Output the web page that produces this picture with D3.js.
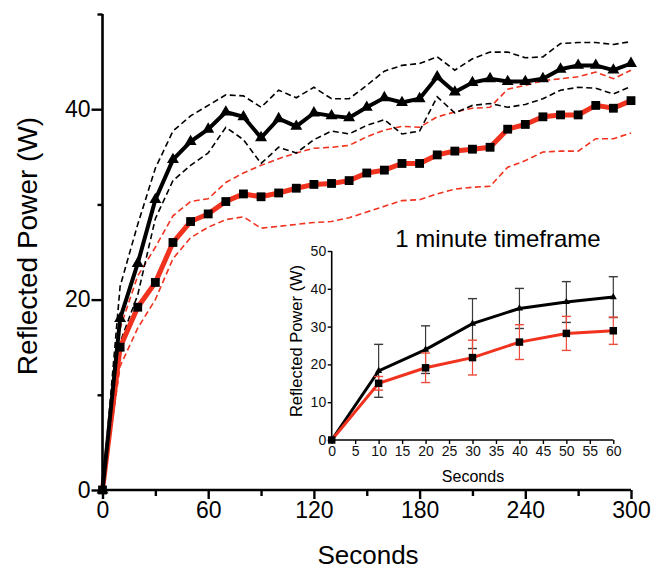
<!DOCTYPE html>
<html>
<head>
<meta charset="utf-8">
<script src="https://cdn.jsdelivr.net/npm/d3@7"></script>
<style>
  body { margin: 0; background: #fff; }
  svg { display: block; font-family: "Liberation Sans", Arial, Helvetica, sans-serif; }
</style>
</head>
<body>
<div id="chart"></div>
<script>
// main panel: 0-300 s, every 10 s
var seconds = [0,10,20,30,40,50,60,70,80,90,100,110,120,130,140,150,160,170,180,190,200,210,220,230,240,250,260,270,280,290,300];
var blackMean  = [0,18.0,23.8,30.5,34.7,36.6,37.9,39.7,39.2,37.0,39.0,38.2,39.6,39.3,39.1,40.2,41.2,40.7,41.1,43.4,41.8,42.8,43.2,42.9,42.9,43.2,44.2,44.6,44.6,44.1,44.8];
var blackUpper = [0,21.4,27.9,33.8,37.7,39.3,40.4,41.5,41.4,40.2,42.0,41.2,42.3,41.1,41.1,42.5,44.0,44.6,44.8,45.5,44.1,45.3,46.0,46.0,45.4,45.5,46.9,47.0,47.0,46.8,47.1];
var blackLower = [0,15.5,20.5,28.5,32.5,34.1,35.4,38.1,36.8,34.3,36.0,35.4,36.8,37.7,37.4,38.3,38.9,37.4,37.7,41.3,39.6,40.4,40.6,40.2,40.5,41.1,42.0,42.3,42.2,41.6,42.4];
var redMean  = [0,15.0,19.2,21.8,26.0,28.2,29.0,30.3,31.1,30.8,31.2,31.7,32.1,32.2,32.5,33.3,33.6,34.3,34.3,35.2,35.6,35.8,36.0,37.9,38.4,39.2,39.4,39.4,40.4,40.1,40.9];
var redUpper = [0,17.0,22.5,25.5,28.8,30.3,30.6,32.3,33.3,34.1,34.8,35.4,35.9,36.0,36.2,37.1,37.8,38.2,38.1,39.2,39.7,40.1,40.2,42.1,42.5,43.0,43.2,43.4,43.9,43.2,44.1];
var redLower = [0,13.0,17.0,20.0,24.3,26.5,27.6,28.4,28.7,27.5,27.7,27.9,28.1,28.2,28.6,29.2,29.8,30.4,30.5,31.1,31.6,31.8,31.9,33.9,34.6,35.5,35.6,35.6,36.9,36.9,37.5];

var mainXTicks = [0,30,60,90,120,150,180,210,240,270,300];
var mainXLabels = [0,60,120,180,240,300];
var mainYTicks = [0,10,20,30,40,50];
var mainYLabels = [0,20,40];

// inset: first minute, mean +/- error
var insetSeconds = [0,10,20,30,40,50,60];
var insetBlackMean = [0,18.3,23.9,30.8,34.8,36.5,37.8];
var insetBlackErr  = [0,7.0,6.3,6.6,5.3,5.4,5.4];
var insetRedMean   = [0,15.0,19.1,21.8,25.9,28.2,28.9];
var insetRedErr    = [0,1.8,3.9,4.6,4.6,4.5,3.6];
var insetXTicks = [0,5,10,15,20,25,30,35,40,45,50,55,60];
var insetYTicks = [0,10,20,30,40,50];

var width = 657, height = 569;
var RED = "#f0321e";

var svg = d3.select("#chart").append("svg")
  .attr("width", width)
  .attr("height", height);

function zipped(xs, ys) {
  return xs.map(function(d, i) { return {t: d, v: ys[i]}; });
}

// ---------- main chart ----------
var x = d3.scaleLinear().domain([0, 300]).range([102.5, 631]);
var y = d3.scaleLinear().domain([0, 50]).range([490, 14]);

var line = d3.line()
  .x(function(d) { return x(d.t); })
  .y(function(d) { return y(d.v); });

var main = svg.append("g");

// dashed bounds
[[redUpper, RED], [redLower, RED], [blackUpper, "#000"], [blackLower, "#000"]].forEach(function(s) {
  main.append("path")
    .datum(zipped(seconds, s[0]))
    .attr("d", line)
    .attr("fill", "none")
    .attr("stroke", s[1])
    .attr("stroke-width", 1.6)
    .attr("stroke-dasharray", "6,3.5");
});

main.append("path")
  .datum(zipped(seconds, redMean))
  .attr("d", line)
  .attr("fill", "none")
  .attr("stroke", RED)
  .attr("stroke-width", 5);

main.append("path")
  .datum(zipped(seconds, blackMean))
  .attr("d", line)
  .attr("fill", "none")
  .attr("stroke", "#000")
  .attr("stroke-width", 4);

main.selectAll(".sq")
  .data(zipped(seconds, redMean))
  .enter().append("path")
  .attr("d", d3.symbol().type(d3.symbolSquare).size(78))
  .attr("transform", function(d) { return "translate(" + x(d.t) + "," + y(d.v) + ")"; })
  .attr("fill", "#000");

main.selectAll(".tri")
  .data(zipped(seconds, blackMean))
  .enter().append("path")
  .attr("d", d3.symbol().type(d3.symbolTriangle).size(62))
  .attr("transform", function(d) { return "translate(" + x(d.t) + "," + y(d.v) + ")"; })
  .attr("fill", "#000");

// axes
var xAxis = main.append("g")
  .attr("transform", "translate(0," + y(0) + ")")
  .call(d3.axisBottom(x).tickValues(mainXTicks).tickSize(9).tickPadding(3)
    .tickFormat(function(d) { return mainXLabels.indexOf(d) >= 0 ? d : ""; }));
xAxis.selectAll(".tick line").attr("y2", function(d) { return mainXLabels.indexOf(d) >= 0 ? 9 : 6; });

var yAxis = main.append("g")
  .attr("transform", "translate(" + x(0) + ",0)")
  .call(d3.axisLeft(y).tickValues(mainYTicks).tickSize(11).tickPadding(1)
    .tickFormat(function(d) { return mainYLabels.indexOf(d) >= 0 ? d : ""; }));
yAxis.selectAll(".tick line").attr("x2", function(d) { return mainYLabels.indexOf(d) >= 0 ? -11 : -5; });

[xAxis, yAxis].forEach(function(a) {
  a.select(".domain").attr("stroke-width", 2.6).attr("d", null);
  a.selectAll(".tick line").attr("stroke-width", 2.4);
  a.selectAll("text").attr("font-size", 23).attr("fill", "#000").attr("font-family", null);
});
xAxis.select(".domain").attr("d", "M" + x(0) + ",0H" + x(300));
yAxis.select(".domain").attr("d", "M0," + y(0) + "V" + y(50));

main.append("text")
  .attr("x", 368).attr("y", 564)
  .attr("text-anchor", "middle")
  .attr("font-size", 26)
  .text("Seconds");

main.append("text")
  .attr("transform", "translate(37,246) rotate(-90)")
  .attr("text-anchor", "middle")
  .attr("font-size", 28)
  .text("Reflected Power (W)");

// ---------- inset ----------
var ix = d3.scaleLinear().domain([0, 60]).range([331.7, 613.3]);
var iy = d3.scaleLinear().domain([0, 50]).range([440, 251]);

var iline = d3.line()
  .x(function(d) { return ix(d.t); })
  .y(function(d) { return iy(d.v); });

var inset = svg.append("g");

function errorBars(means, errs, colour) {
  var g = inset.append("g");
  insetSeconds.forEach(function(t, i) {
    if (errs[i] === 0) return;
    var top = iy(means[i] + errs[i]), bot = iy(means[i] - errs[i]), cx = ix(t);
    g.append("line").attr("x1", cx).attr("x2", cx).attr("y1", top).attr("y2", bot)
      .attr("stroke", colour).attr("stroke-width", 1.2);
    [top, bot].forEach(function(yy) {
      g.append("line").attr("x1", cx - 4.5).attr("x2", cx + 4.5).attr("y1", yy).attr("y2", yy)
        .attr("stroke", colour).attr("stroke-width", 1.4);
    });
  });
}

errorBars(insetBlackMean, insetBlackErr, "#3a3a3a");
inset.append("path")
  .datum(zipped(insetSeconds, insetBlackMean))
  .attr("d", iline)
  .attr("fill", "none")
  .attr("stroke", "#000")
  .attr("stroke-width", 3);

errorBars(insetRedMean, insetRedErr, "#f04a3a");
inset.append("path")
  .datum(zipped(insetSeconds, insetRedMean))
  .attr("d", iline)
  .attr("fill", "none")
  .attr("stroke", RED)
  .attr("stroke-width", 3);

inset.selectAll(".itri")
  .data(zipped(insetSeconds, insetBlackMean))
  .enter().append("path")
  .attr("d", d3.symbol().type(d3.symbolTriangle).size(22))
  .attr("transform", function(d) { return "translate(" + ix(d.t) + "," + iy(d.v) + ")"; })
  .attr("fill", "#000");

inset.selectAll(".isq")
  .data(zipped(insetSeconds, insetRedMean))
  .enter().append("path")
  .attr("d", d3.symbol().type(d3.symbolSquare).size(56))
  .attr("transform", function(d) { return "translate(" + ix(d.t) + "," + iy(d.v) + ")"; })
  .attr("fill", "#000");

var ixAxis = inset.append("g")
  .attr("transform", "translate(0," + iy(0) + ")")
  .call(d3.axisBottom(ix).tickValues(insetXTicks).tickSize(4).tickPadding(2.5));
var iyAxis = inset.append("g")
  .attr("transform", "translate(" + ix(0) + ",0)")
  .call(d3.axisLeft(iy).tickValues(insetYTicks).tickSize(4).tickPadding(1.5));

[ixAxis, iyAxis].forEach(function(a) {
  a.select(".domain").attr("stroke-width", 1.6);
  a.selectAll(".tick line").attr("stroke-width", 1.4);
  a.selectAll("text").attr("font-size", 14).attr("fill", "#111").attr("font-family", null);
});
ixAxis.select(".domain").attr("d", "M" + ix(0) + ",0H" + ix(60));
iyAxis.select(".domain").attr("d", "M0," + iy(0) + "V" + iy(50));

inset.append("text")
  .attr("x", 473).attr("y", 482)
  .attr("text-anchor", "middle")
  .attr("font-size", 16)
  .text("Seconds");

inset.append("text")
  .attr("transform", "translate(302,341) rotate(-90)")
  .attr("text-anchor", "middle")
  .attr("font-size", 16.5)
  .text("Reflected Power (W)");

inset.append("text")
  .attr("x", 498).attr("y", 247)
  .attr("text-anchor", "middle")
  .attr("font-size", 24)
  .text("1 minute timeframe");
</script>
</body>
</html>
